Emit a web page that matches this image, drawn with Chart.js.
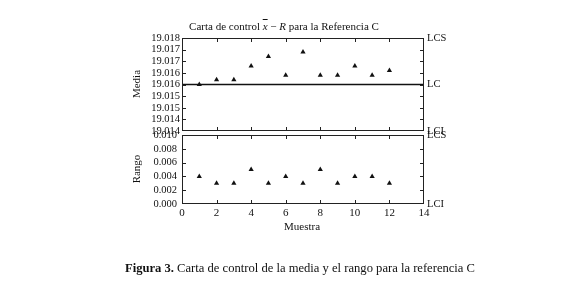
<!DOCTYPE html>
<html>
<head>
<meta charset="utf-8">
<script src="https://cdn.jsdelivr.net/npm/chart.js@4.4.1/dist/chart.umd.min.js"></script>
<style>
  body { margin: 0; background: #fff; }
  #lienzo { position: relative; width: 580px; height: 282px; font-family: "Liberation Serif", "DejaVu Serif", serif; color: #111; }
  #lienzo canvas { position: absolute; left: 0; top: 0; }
  .txt { position: absolute; white-space: nowrap; line-height: 1; }
</style>
</head>
<body>
<div id="lienzo">
  <canvas id="graficoMedia" width="580" height="282"></canvas>
  <canvas id="graficoRango" width="580" height="282"></canvas>
  <div class="txt" style="left:284px; top:21px; transform:translateX(-50%); font-size:11px;">Carta de control <i><span style="text-decoration:overline">x</span></i> &minus; <i>R</i> para la Referencia C</div>
  <div class="txt" style="left:136px; top:84px; transform:translate(-50%,-50%) rotate(-90deg); font-size:11px;">Media</div>
  <div class="txt" style="left:136px; top:169px; transform:translate(-50%,-50%) rotate(-90deg); font-size:11px;">Rango</div>
  <div class="txt" style="left:302px; top:221px; transform:translateX(-50%); font-size:11px;">Muestra</div>
  <div class="txt" style="left:300px; top:262px; transform:translateX(-50%); font-size:12.6px;"><b>Figura 3.</b> Carta de control de la media y el rango para la referencia C</div>
</div>
<script>
// datos
const muestras = [1, 2, 3, 4, 5, 6, 7, 8, 9, 10, 11, 12];
const medias = [19.0160, 19.0162, 19.0162, 19.0168, 19.0172, 19.0164, 19.0174, 19.0164, 19.0164, 19.0168, 19.0164, 19.0166];
const rangos = [0.004, 0.003, 0.003, 0.005, 0.003, 0.004, 0.003, 0.005, 0.003, 0.004, 0.004, 0.003];

// limites de control
const mediaLCS = 19.018, mediaLC = 19.016, mediaLCI = 19.014;
const rangoLCS = 0.010, rangoLCI = 0.000;

// marcas de los ejes
const ticksMedia = [19.014, 19.0145, 19.015, 19.0155, 19.016, 19.0165, 19.017, 19.0175, 19.018];
const etiquetasMedia = ["19.014", "19.014", "19.015", "19.015", "19.016", "19.016", "19.017", "19.017", "19.018"];
const ticksRango = [0, 0.002, 0.004, 0.006, 0.008, 0.010];
const etiquetasRango = ["0.000", "0.002", "0.004", "0.006", "0.008", "0.010"];
const limitesMedia = [mediaLCI, mediaLC, mediaLCS];
const nombresMedia = ["LCI", "LC", "LCS"];
const limitesRango = [rangoLCI, rangoLCS];
const nombresRango = ["LCI", "LCS"];

const fuente = { family: '"Liberation Serif", "DejaVu Serif", serif', size: 10.5 };
const negro = "#111";

// marco y marcas hacia dentro (estilo gnuplot)
const marco = {
  id: "marco",
  afterDatasetsDraw(chart) {
    const { ctx, chartArea: a, scales } = chart;
    const len = 4;
    ctx.save();
    ctx.strokeStyle = "#222";
    ctx.lineWidth = 1;
    ctx.beginPath();
    scales.x.ticks.forEach(t => {
      const px = Math.round(scales.x.getPixelForValue(t.value)) + 0.5;
      if (px <= a.left + 1 || px >= a.right - 1) return;
      ctx.moveTo(px, a.bottom); ctx.lineTo(px, a.bottom - len);
      ctx.moveTo(px, a.top); ctx.lineTo(px, a.top + len);
    });
    scales.y.ticks.forEach(t => {
      const py = Math.round(scales.y.getPixelForValue(t.value)) + 0.5;
      if (py <= a.top + 1 || py >= a.bottom - 1) return;
      ctx.moveTo(a.left, py); ctx.lineTo(a.left + len, py);
      ctx.moveTo(a.right, py); ctx.lineTo(a.right - len, py);
    });
    ctx.stroke();
    ctx.strokeRect(Math.round(a.left) + 0.5, Math.round(a.top) + 0.5, Math.round(a.width) - 1, Math.round(a.height) - 1);
    ctx.restore();
  }
};

function ejeX(mostrar) {
  return {
    type: "linear", min: 0, max: 14,
    grid: { display: false, drawTicks: false },
    border: { display: false },
    ticks: { display: mostrar, stepSize: 2, font: { ...fuente, size: 11 }, color: negro, padding: 3, maxRotation: 0 },
    afterFit: s => { s.height = mostrar ? 20 : 0; }
  };
}

function ejeY(min, max, valores, etiquetas, ancho, pos, pad) {
  return {
    type: "linear", position: pos, min: min, max: max,
    grid: { display: false, drawTicks: false },
    border: { display: false },
    ticks: {
      autoSkip: false, font: fuente, color: negro, padding: pad,
      callback: (v, i) => etiquetas[i]
    },
    afterBuildTicks: s => { s.ticks = valores.map(v => ({ value: v })); },
    afterFit: s => { s.width = ancho; }
  };
}

const puntos = {
  showLine: false, pointStyle: "triangle", pointRadius: 3,
  backgroundColor: negro, borderColor: negro, borderWidth: 0
};

new Chart(document.getElementById("graficoMedia"), {
  type: "scatter",
  data: {
    datasets: [
      { ...puntos, data: muestras.map((m, i) => ({ x: m, y: medias[i] })) },
      {
        type: "line", data: [{ x: 0, y: mediaLC }, { x: 14, y: mediaLC }],
        borderColor: negro, borderWidth: 1.5, pointRadius: 0
      }
    ]
  },
  options: {
    responsive: false, animation: false,
    layout: { padding: { left: 130, right: 126, top: 38, bottom: 151 } },
    plugins: { legend: { display: false }, tooltip: { enabled: false } },
    scales: {
      x: ejeX(false),
      y: ejeY(mediaLCI, mediaLCS, ticksMedia, etiquetasMedia, 52, "left", 2),
      y2: ejeY(mediaLCI, mediaLCS, limitesMedia, nombresMedia, 30, "right", 3)
    }
  },
  plugins: [marco]
});

new Chart(document.getElementById("graficoRango"), {
  type: "scatter",
  data: {
    datasets: [
      { ...puntos, data: muestras.map((m, i) => ({ x: m, y: rangos[i] })) }
    ]
  },
  options: {
    responsive: false, animation: false,
    layout: { padding: { left: 130, right: 126, top: 135, bottom: 58 } },
    plugins: { legend: { display: false }, tooltip: { enabled: false } },
    scales: {
      x: ejeX(true),
      y: ejeY(rangoLCI, rangoLCS, ticksRango, etiquetasRango, 52, "left", 5),
      y2: ejeY(rangoLCI, rangoLCS, limitesRango, nombresRango, 30, "right", 3)
    }
  },
  plugins: [marco]
});
</script>
</body>
</html>
